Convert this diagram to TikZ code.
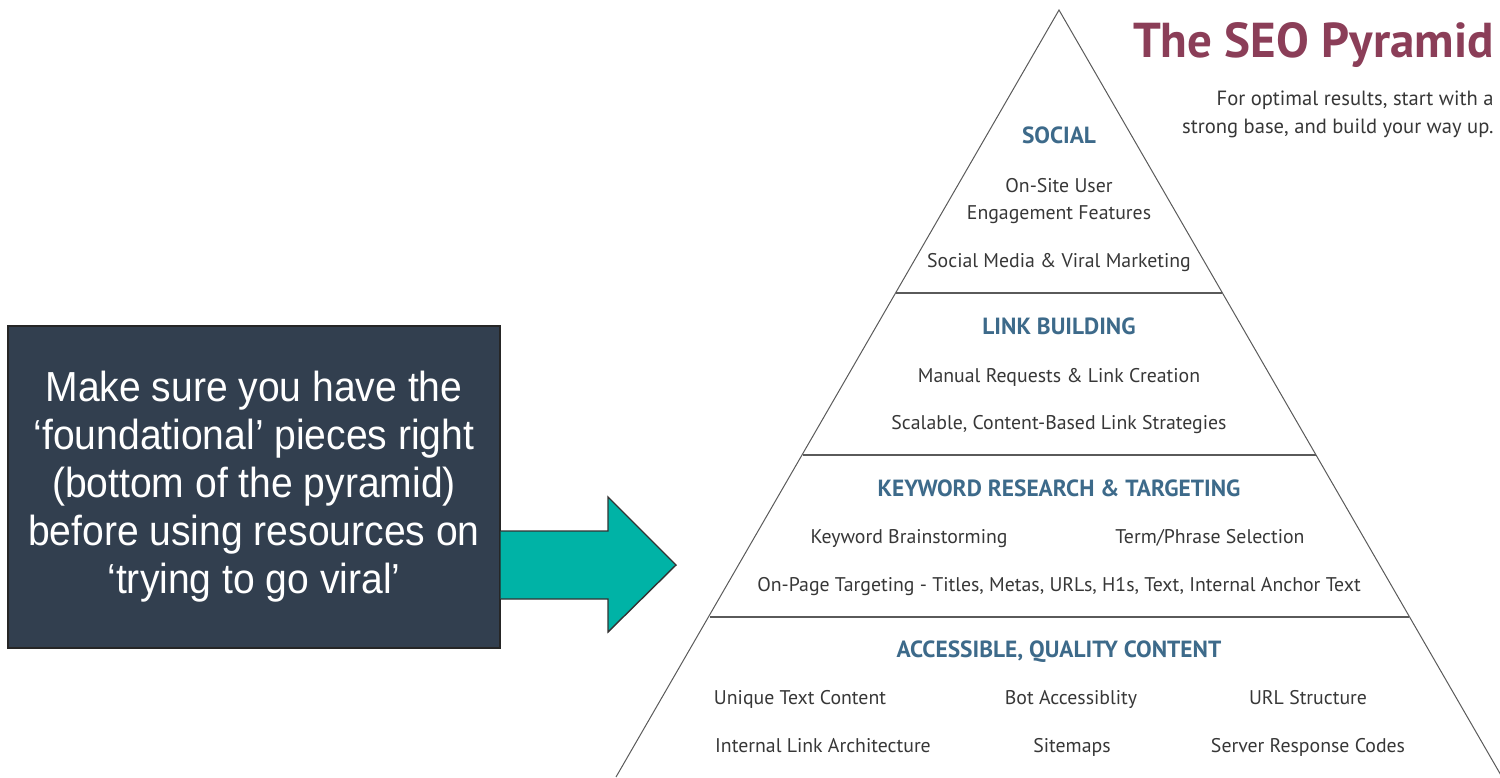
\documentclass[tikz,border=0pt]{standalone}
\usepackage{fontspec}
\setmainfont{PT Sans}
\newfontfamily\notefont[FakeStretch=0.93]{Liberation Sans}
\usetikzlibrary{positioning,calc}
\definecolor{titlecol}{RGB}{139,62,88}
\definecolor{levelcol}{RGB}{61,106,138}
\definecolor{itemcol}{RGB}{55,55,55}
\definecolor{notebg}{RGB}{50,63,79}
\definecolor{arrowcol}{RGB}{0,179,166}
\definecolor{edgecol}{RGB}{90,90,90}

\begin{document}
\begin{tikzpicture}[x=0.5pt,y=-0.5pt,
   level/.style={text=levelcol,font=\fontsize{11.7}{13}\selectfont\bfseries,inner sep=0pt,anchor=base},
   item/.style={text=itemcol,font=\fontsize{9.9}{13.5}\selectfont,inner sep=0pt,align=center,anchor=base},
   edge/.style={draw=edgecol,line width=0.5pt}]
  \useasboundingbox (0,0) rectangle (1500,777);

  % pyramid outline and tiers
  \coordinate (apex) at (1059,10);
  \coordinate (bl) at (616,777);
  \coordinate (br) at (1502,777);
  \draw[edge] (bl) -- (apex) -- (br);
  \foreach \y/\xl/\xr in {293/896/1222, 455/803/1316, 617/710/1409}
    \draw[edge,line width=0.7pt] (\xl,\y) -- (\xr,\y);

  % heading (base anchor of a multi-line node sits on its last line)
  \node[anchor=base east,text=titlecol,inner sep=0pt,
        font=\fontsize{24.5}{30}\selectfont\bfseries] (title) at (1494,57) {The SEO Pyramid};
  \node[item,anchor=base east,align=right,font=\fontsize{10.3}{14}\selectfont] (sub) at (1494,133)
        {For optimal results, start with a\\strong base, and build your way up.};

  % social
  \node[level] (social) at (1059,143) {SOCIAL};
  \node[item] (onsite) at (1059,219) {On-Site User\\Engagement Features};
  \node[item] (viral) at (1059,267) {Social Media \& Viral Marketing};

  % link building
  \node[level] (links) at (1059,334) {LINK BUILDING};
  \node[item] (manual) at (1059,382) {Manual Requests \& Link Creation};
  \node[item] (scal) at (1059,429) {Scalable, Content-Based Link Strategies};

  % keyword research
  \node[level] (kw) at (1059,496) {KEYWORD RESEARCH \& TARGETING};
  \node[item] (brain) at (909,543) {Keyword Brainstorming};
  \node[item] (term) at (1210,543) {Term/Phrase Selection};
  \node[item] (onpage) at (1059,591) {On-Page Targeting - Titles, Metas, URLs, H1s, Text, Internal Anchor Text};

  % content
  \node[level] (content) at (1059,657) {ACCESSIBLE, QUALITY CONTENT};
  \node[item] (unique) at (800,704) {Unique Text Content};
  \node[item] (bot) at (1071,704) {Bot Accessiblity};
  \node[item] (url) at (1308,704) {URL Structure};
  \node[item] (arch) at (823,752) {Internal Link Architecture};
  \node[item] (maps) at (1072,752) {Sitemaps};
  \node[item] (codes) at (1308,752) {Server Response Codes};

  % note box with block arrow
  \node[draw=black!85,line width=0.6pt,fill=notebg,text=white,align=center,
        minimum width=246pt,minimum height=161pt,inner sep=0pt,
        font=\notefont\fontsize{21}{24}\selectfont] (note) at (254,487)
        {Make sure you have the\\‘foundational’ pieces right\\(bottom of the pyramid)\\before using resources on\\‘trying to go viral’};
  \draw[draw=black!80,line width=0.7pt,fill=arrowcol,line join=miter]
    (note.east |- 0,531) -- (608,531) -- (608,497) -- (676,565) -- (608,632)
    -- (608,599) -- (note.east |- 0,599);
\end{tikzpicture}
\end{document}
